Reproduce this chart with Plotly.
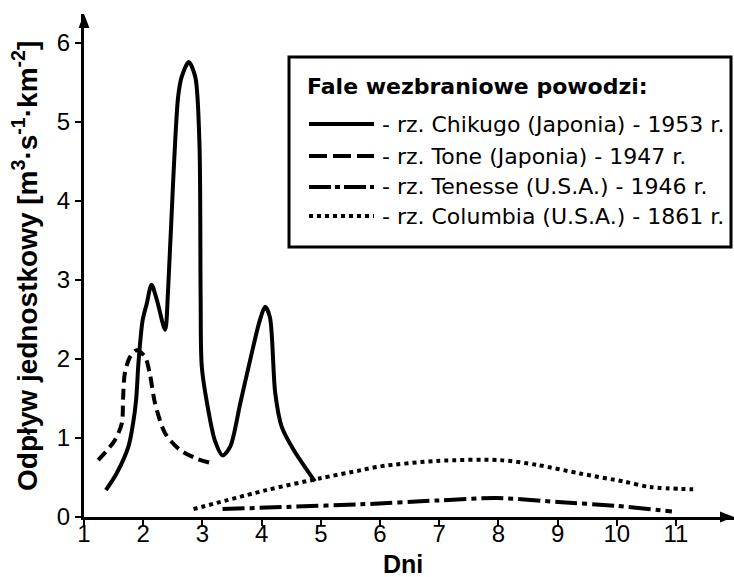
import plotly.graph_objects as go

# Flood hydrographs: unit runoff [m3 s-1 km-2] vs. time [days]
chikugo_x = [1.37, 1.55, 1.75, 1.83, 1.88, 1.92, 1.99, 2.06, 2.14, 2.23, 2.37, 2.42, 2.51, 2.59,
             2.65, 2.77, 2.88, 2.95, 2.97, 2.99, 3.10, 3.21, 3.34, 3.47, 3.64, 3.86, 3.97, 4.06,
             4.14, 4.23, 4.34, 4.54, 4.90]
chikugo_y = [0.34, 0.55, 0.89, 1.19, 1.48, 1.95, 2.49, 2.70, 2.94, 2.75, 2.37, 2.87, 4.31, 5.32,
             5.57, 5.76, 5.57, 4.73, 2.80, 1.90, 1.35, 0.97, 0.78, 0.89, 1.44, 2.16, 2.49, 2.66,
             2.53, 1.57, 1.14, 0.85, 0.45]

tone_x = [1.24, 1.52, 1.64, 1.66, 1.69, 1.78, 1.89, 2.03, 2.11, 2.20, 2.37, 2.62, 2.90, 3.16]
tone_y = [0.72, 0.97, 1.19, 1.50, 1.82, 2.03, 2.11, 2.03, 1.82, 1.44, 1.06, 0.85, 0.74, 0.68]

tenesse_x = [3.34, 4.5, 5.66, 6.99, 7.97, 9.01, 10.0, 10.93]
tenesse_y = [0.10, 0.13, 0.16, 0.21, 0.24, 0.19, 0.14, 0.07]

columbia_x = [2.85, 4.08, 4.99, 5.66, 6.00, 6.96, 8.03, 8.65, 9.38, 10.11, 10.56, 11.29]
columbia_y = [0.10, 0.34, 0.49, 0.59, 0.64, 0.71, 0.72, 0.66, 0.55, 0.45, 0.38, 0.35]

legend_title = "Fale wezbraniowe powodzi:"
legend_labels = [
    "- rz. Chikugo (Japonia) - 1953 r.",
    "- rz. Tone (Japonia) - 1947 r.",
    "- rz. Tenesse (U.S.A.) - 1946 r.",
    "- rz. Columbia (U.S.A.) - 1861 r.",
]
x_ticks = list(range(1, 12))
y_ticks = list(range(0, 7))

FONT = "Liberation Sans, Arial, sans-serif"
WIDE = "DejaVu Sans, sans-serif"
W, H = 734, 577
ML, MR, MT, MB = 84, 0, 14, 60
PW, PH = W - ML - MR, H - MT - MB
X_RANGE = [1, 1 + PW / 59.2]
Y_RANGE = [0, PH / 79.0]


def px(x):
    return (x - ML) / PW


def py(y):
    return (H - MB - y) / PH


series = [
    (chikugo_x, chikugo_y, "solid", 4),
    (tone_x, tone_y, "11px,6px", 4),
    (tenesse_x, tenesse_y, "22px,5px,5px,5px", 4),
    (columbia_x, columbia_y, "4px,4px", 4),
]

fig = go.Figure()
for (xs, ys, dash, w), name in zip(series, legend_labels):
    fig.add_trace(go.Scatter(
        x=xs, y=ys, mode="lines", name=name, showlegend=False,
        line=dict(color="black", width=w, dash=dash, shape="spline", smoothing=0.8),
    ))
# invisible trace that carries the day labels on a second x axis
fig.add_trace(go.Scatter(x=X_RANGE, y=[0, 0], xaxis="x2", mode="lines",
                         line=dict(width=0), hoverinfo="skip", showlegend=False))

shapes = []
annotations = []

# axis arrowheads
shapes.append(dict(type="path", xref="paper", yref="paper", xsizemode="pixel", ysizemode="pixel",
                   xanchor=1, yanchor=0, path="M0,0 L-14,5.5 L-14,-5.5 Z",
                   fillcolor="black", line=dict(width=0)))
shapes.append(dict(type="path", xref="paper", yref="paper", xsizemode="pixel", ysizemode="pixel",
                   xanchor=0, yanchor=1, path="M0,0 L-5.5,-14 L5.5,-14 Z",
                   fillcolor="black", line=dict(width=0)))

# legend frame
shapes.append(dict(type="rect", xref="paper", yref="paper",
                   x0=px(289), x1=px(731), y0=py(247), y1=py(57),
                   line=dict(color="black", width=3), fillcolor="white", layer="above"))

annotations.append(dict(text="<b>%s</b>" % legend_title, xref="paper", yref="paper",
                        x=px(305), y=py(87), xanchor="left", yanchor="middle", showarrow=False,
                        font=dict(family=WIDE, size=22, color="black")))

legend_rows = [124, 156, 187, 216]
legend_dash = ["solid", "18px,6px", "22px,4px,5px,4px", "4px,4px"]
for yy, lab, dash in zip(legend_rows, legend_labels, legend_dash):
    shapes.append(dict(type="line", xref="paper", yref="paper",
                       x0=px(309), x1=px(374), y0=py(yy), y1=py(yy),
                       line=dict(color="black", width=4, dash=dash), layer="above"))
    annotations.append(dict(text=lab, xref="paper", yref="paper",
                            x=px(380), y=py(yy), xanchor="left", yanchor="middle", showarrow=False,
                            font=dict(family=WIDE, size=22, color="black")))

annotations.append(dict(
    text="<b>Odpływ jednostkowy [m<sup>3</sup>·s<sup>-1</sup>·km<sup>-2</sup>]</b>",
    xref="paper", yref="paper", x=px(25), y=py(266), textangle=-90,
    xanchor="center", yanchor="middle", showarrow=False,
    font=dict(family=FONT, size=28, color="black")))
annotations.append(dict(text="<b>Dni</b>", xref="paper", yref="paper",
                        x=px(403), y=py(564), xanchor="center", yanchor="middle",
                        showarrow=False, font=dict(family=FONT, size=25, color="black")))

fig.update_layout(
    width=W, height=H,
    margin=dict(l=ML, r=MR, t=MT, b=MB),
    paper_bgcolor="white", plot_bgcolor="white",
    shapes=shapes, annotations=annotations,
    font=dict(family=FONT, size=24, color="black"),
    xaxis=dict(range=X_RANGE, tickvals=x_ticks, ticks="outside", ticklen=6, tickwidth=2,
               tickcolor="black", showline=True, linewidth=3, linecolor="black",
               showgrid=False, zeroline=False, showticklabels=False),
    xaxis2=dict(range=X_RANGE, overlaying="x", anchor="y", side="bottom", tickvals=x_ticks,
                ticks="", showline=False, showgrid=False, zeroline=False,
                tickfont=dict(size=24, color="black")),
    yaxis=dict(range=Y_RANGE, tickvals=y_ticks, ticks="outside", ticklen=6, tickwidth=2,
               tickcolor="black", showline=True, linewidth=3, linecolor="black",
               showgrid=False, zeroline=False, tickfont=dict(size=24, color="black")),
)

fig.write_html("out.html")
